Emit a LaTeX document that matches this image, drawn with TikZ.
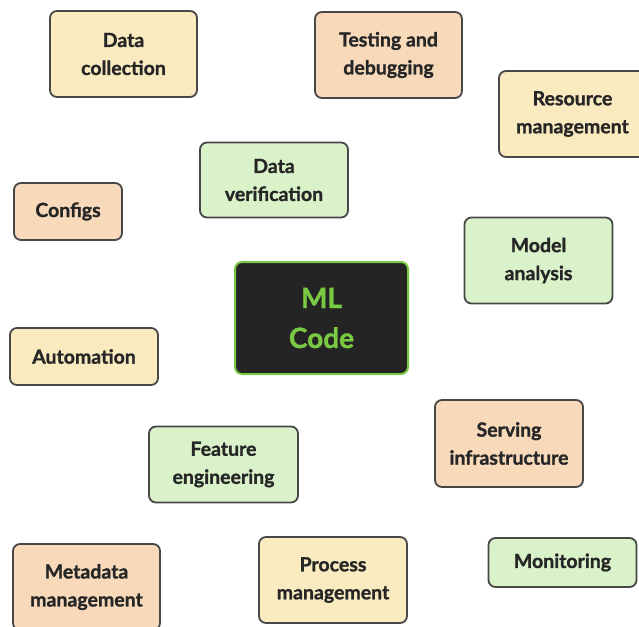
\documentclass[tikz,border=0pt]{standalone}
\usepackage{fontspec}
\setmainfont{Lato}[BoldFeatures={FakeBold=1.2}]
\usepackage{tikz}

\definecolor{boxline}{HTML}{474747}
\definecolor{yellowfill}{HTML}{FAEABF}
\definecolor{peachfill}{HTML}{F8DABB}
\definecolor{greenfill}{HTML}{DAF2C9}
\definecolor{codefill}{HTML}{242424}
\definecolor{codegreen}{HTML}{7AC943}
\definecolor{textdark}{HTML}{262626}

\tikzset{
  task/.style={draw=boxline, line width=1.8pt, rounded corners=7pt, align=center,
    font=\fontsize{19.5}{28}\selectfont\bfseries, text=textdark, inner sep=0pt},
  yellowbox/.style={task, fill=yellowfill},
  peachbox/.style={task, fill=peachfill},
  greenbox/.style={task, fill=greenfill},
  codebox/.style={draw=codegreen, line width=2pt, fill=codefill, rounded corners=7pt,
    align=center, font=\fontsize{28}{40}\selectfont\bfseries, text=codegreen, inner sep=0pt}
}

\begin{document}
\begin{tikzpicture}[x=1pt,y=-1pt]
\clip (0,0) rectangle (639,626);
\fill[white] (0,0) rectangle (639,626);
% centre
\node[codebox, minimum width=173pt, minimum height=112pt] (mlcode) at (321.5,318) {ML\\Code};
% top row
\node[yellowbox, minimum width=147pt, minimum height=86pt] (datacoll) at (123.5,54) {Data\\collection};
\node[peachbox, minimum width=147pt, minimum height=86pt] (testing) at (388.5,55) {Testing and\\debugging};
\node[yellowbox, minimum width=147pt, minimum height=86pt] (resource) at (572.5,114) {Resource\\management};
% middle
\node[greenbox, minimum width=148pt, minimum height=75pt] (dataver) at (274,180) {Data\\verification};
\node[peachbox, minimum width=108pt, minimum height=57pt] (configs) at (68,211.5) {Configs};
\node[greenbox, minimum width=148pt, minimum height=86pt] (modelan) at (538.5,260.5) {Model\\analysis};
\node[yellowbox, minimum width=148pt, minimum height=57pt] (automation) at (84,356.5) {Automation};
\node[greenbox, minimum width=149pt, minimum height=76pt] (feature) at (223.5,464.5) {Feature\\engineering};
\node[peachbox, minimum width=148pt, minimum height=87pt] (serving) at (509,443.5) {Serving\\infrastructure};
% bottom row
\node[peachbox, minimum width=147pt, minimum height=86pt] (metadata) at (86.5,587) {Metadata\\management};
\node[yellowbox, minimum width=148pt, minimum height=86pt] (process) at (333,580) {Process\\management};
\node[greenbox, minimum width=148pt, minimum height=49pt] (monitoring) at (562.5,562.5) {Monitoring};
\end{tikzpicture}
\end{document}
